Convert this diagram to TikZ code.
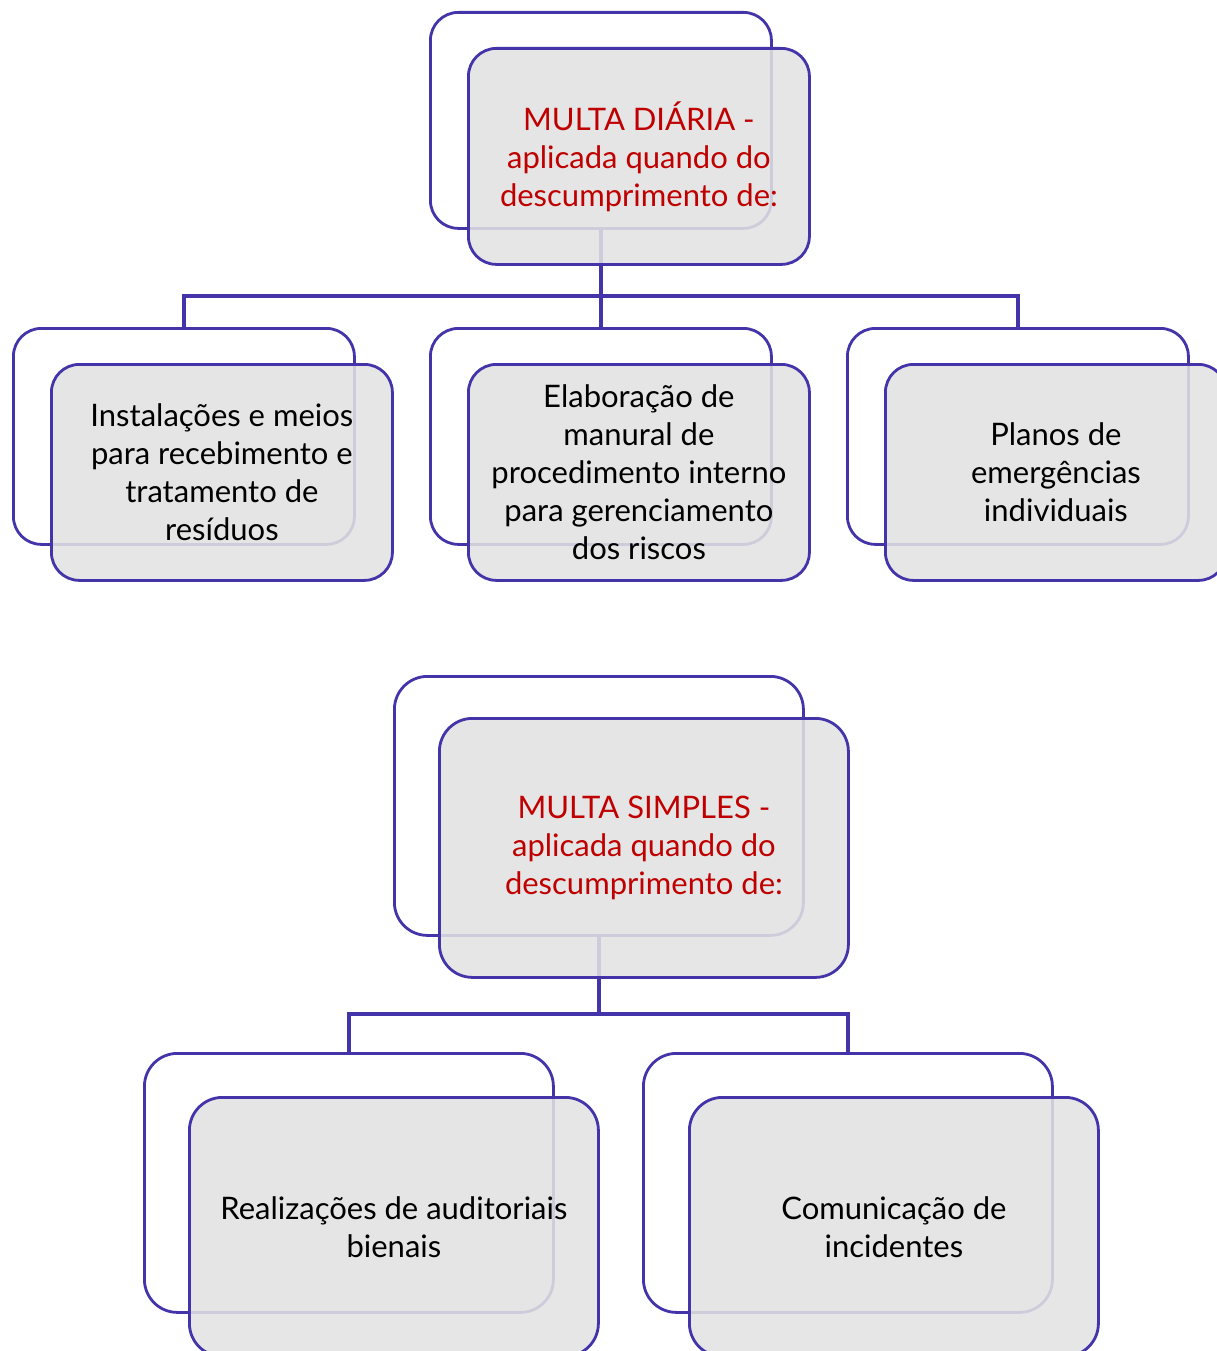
\documentclass[tikz,border=0pt]{standalone}
\usepackage{fontspec}
\setmainfont{Lato}
\definecolor{edge}{RGB}{68,52,170}
\definecolor{boxgray}{RGB}{226,226,226}
\definecolor{txtred}{RGB}{192,0,0}
\begin{document}
\begin{tikzpicture}[x=1pt,y=-1pt,
  backbox/.style={draw=edge,line width=2.8pt,fill=white,rectangle,rounded corners=#1,inner sep=0pt,anchor=north west},
  frontbox/.style={draw=edge,line width=2.8pt,fill=boxgray,fill opacity=0.88,text opacity=1,rectangle,rounded corners=#1,inner sep=0pt,anchor=north west,align=center,font=\fontsize{31}{38}\selectfont},
  conn/.style={draw=edge,line width=3.2pt},
  smallsz/.style={minimum width=341pt,minimum height=216pt},
  bigsz/.style={minimum width=409pt,minimum height=259pt}]
\useasboundingbox (0,0) rectangle (1216,1351);
% ---------- diagram 1 ----------
\node[backbox=28,smallsz] (b0) at (429,11) {};
\node[backbox=28,smallsz] (bl) at (12,327) {};
\node[backbox=28,smallsz] (bm) at (429,327) {};
\node[backbox=28,smallsz] (br) at (846,327) {};
\coordinate (j1) at (b0.south |- 0,296);
\draw[conn] (b0.south) -- (j1);
\draw[conn] (bl.north) |- (j1) -| (br.north);
\draw[conn] (j1) -- (bm.north);
\node[frontbox=28,smallsz,text=txtred] (f0) at (467,47) {MULTA DIÁRIA -\\aplicada quando do\\descumprimento de:};
\node[frontbox=28,smallsz] (fl) at (50,363) {Instalações e meios\\para recebimento e\\tratamento de\\resíduos};
\node[frontbox=28,smallsz] (fm) at (467,363) {Elaboração de\\manural de\\procedimento interno\\para gerenciamento\\dos riscos};
\node[frontbox=28,smallsz] (fr) at (884,363) {Planos de\\emergências\\individuais};
% ---------- diagram 2 ----------
\node[backbox=33,bigsz] (c0) at (393,675) {};
\node[backbox=33,bigsz] (cl) at (143,1052) {};
\node[backbox=33,bigsz] (cr) at (642,1052) {};
\coordinate (j2) at (c0.south |- 0,1014);
\draw[conn] (c0.south) -- (j2);
\draw[conn] (cl.north) |- (j2) -| (cr.north);
\node[frontbox=33,bigsz,text=txtred] (g0) at (438,717) {MULTA SIMPLES -\\aplicada quando do\\descumprimento de:};
\node[frontbox=33,bigsz] (gl) at (188,1096) {Realizações de auditoriais\\bienais};
\node[frontbox=33,bigsz] (gr) at (688,1096) {Comunicação de\\incidentes};
\end{tikzpicture}
\end{document}
